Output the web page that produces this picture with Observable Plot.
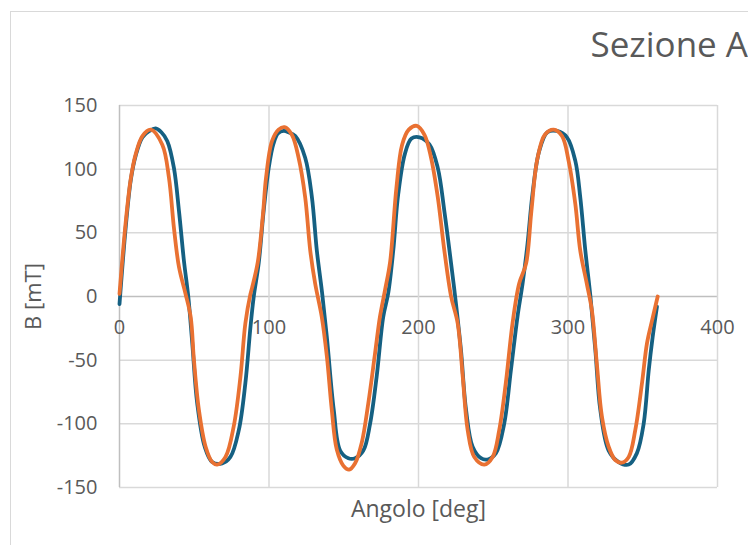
<!DOCTYPE html>
<html>
<head>
<meta charset="utf-8">
<script src="https://cdn.jsdelivr.net/npm/d3@7"></script>
<script src="https://cdn.jsdelivr.net/npm/@observablehq/plot@0.6"></script>
<style>
  html, body { margin: 0; padding: 0; background: #fff; overflow: hidden; }
  #wrap { position: relative; width: 748px; height: 545px; overflow: hidden; }
  #border { position: absolute; left: 10px; top: 11px; width: 800px; height: 600px; border: 1.5px solid #d9d9d9; box-sizing: border-box; }
  #chart { position: absolute; left: 0; top: 0; }
</style>
</head>
<body>
<div id="wrap"><div id="border"></div><div id="chart"></div></div>
<script>
const chartTitle = "Sezione A";
const xTitle = "Angolo [deg]";
const yTitle = "B [mT]";
const xTicks = [0, 100, 200, 300, 400];
const yTicks = [-150, -100, -50, 0, 50, 100, 150];

// Blue series (angle deg, B mT)
const blueX = [0, 4.2, 7.6, 10.9, 15.3, 20, 24.2, 28, 32, 36.4, 39.8, 43.1, 46, 48.7, 52, 57, 62, 68.7, 74.2, 79.8, 84.2, 87.6, 89.8, 93.1, 96.4, 99.8, 103, 106, 109.8, 113, 117.6, 124.2, 128.7, 132, 135.3, 138.7, 143.3, 147.6, 153.1, 157.6, 163.1, 167.6, 172, 176.4, 179.8, 183.1, 186.4, 190.9, 195.3, 200.7, 207.3, 212.9, 217.3, 221.8, 225.1, 228.4, 231.8, 236.2, 241.8, 246.2, 251.8, 257.3, 261.8, 266.2, 269.6, 272.9, 276.2, 280.7, 286.2, 292.6, 299.3, 304.9, 308.2, 311.6, 315, 318.3, 321.6, 327.2, 333.9, 340.6, 346.1, 350.6, 354, 356.6, 359.5];
const blueY = [-6, 55, 92, 111, 125, 130, 132, 129, 122, 101, 67, 28, 0, -37, -84, -118, -130, -131, -126, -105, -68, -24, 0, 26, 67, 101, 120, 128, 130, 129, 126, 109, 78, 36, 5, -32, -89, -121, -127, -127, -121, -100, -63, -16, 3, 36, 80, 112, 124, 125, 119.5, 101, 67, 26, -6, -42, -89, -118, -127, -128, -123, -100, -58, -16, 10, 41, 80, 114, 129, 130, 125, 106.5, 78, 36, 0, -42, -89, -121, -130, -132, -123, -100, -58, -32, -8];

// Orange series (angle deg, B mT)
const orangeX = [0, 4.2, 7.6, 10.9, 15.3, 20.9, 28.7, 33.1, 36.4, 39.8, 44.2, 47.6, 49.8, 53.1, 57.6, 62, 65.3, 70.9, 76.4, 80.9, 84.2, 87.6, 88.7, 92.5, 96, 98, 102, 106.4, 110.4, 115.3, 119.8, 124.2, 127.6, 130.9, 135.3, 138.7, 142, 145.3, 149.8, 153.6, 157.6, 162, 166.4, 170.9, 174.2, 177.6, 181, 185.2, 189, 193.5, 198.9, 204, 208.4, 212.9, 217.3, 221.8, 226.2, 229.6, 232.9, 237.3, 244, 249.6, 254, 258.4, 262.9, 267.3, 272, 275.5, 279.5, 284.5, 290.4, 296, 300.4, 304.9, 308.2, 312.6, 316, 319.3, 322.7, 327.2, 331.6, 336, 340.6, 345, 349.5, 352.8, 356.2, 360];
const orangeY = [2, 59, 93, 112, 126, 131, 119, 93, 54, 23, 2, -16, -50, -89, -118, -130, -132, -126, -102, -63, -21, 2, 7, 27, 65, 93, 122, 131, 133, 127, 109, 78, 36, 10, -16, -47, -89, -120, -133, -136, -131, -115, -84, -45, -16, 5, 27, 85, 119, 131, 134, 127, 109, 78, 36, 0, -21, -63, -105, -126, -132, -126, -105, -68, -21, 10, 26, 67, 108, 127, 131, 126, 106.5, 72.6, 36, 10, -11, -53, -94.5, -118, -128.4, -130.5, -126, -105, -68, -37, -19, 0];

const blue = blueX.map((x, i) => ({x, y: blueY[i]}));
const orange = orangeX.map((x, i) => ({x, y: orangeY[i]}));

const textColor = "#595959";
const font = "'Open Sans', 'Liberation Sans', sans-serif";

const plot = Plot.plot({
  width: 748,
  height: 545,
  marginLeft: 119,
  marginRight: 31,
  marginTop: 105,
  marginBottom: 58,
  style: {background: "transparent", fontFamily: font, color: textColor, overflow: "visible"},
  x: {domain: [0, 400], axis: null},
  y: {domain: [-150, 150], axis: null},
  marks: [
    Plot.ruleY(yTicks, {y: d => d, stroke: d => d === 0 ? "#bfbfbf" : "#d9d9d9", strokeWidth: 1.5, strokeOpacity: 1}),
    Plot.ruleX(xTicks, {x: d => d, stroke: d => d === 0 ? "#bfbfbf" : "#d9d9d9", strokeWidth: 1.5, strokeOpacity: 1}),
    Plot.axisY(yTicks, {anchor: "left", tickSize: 0, tickPadding: 22, fontSize: 20, fill: textColor, label: null, tickFormat: d => d < 0 ? "-" + Math.abs(d) : String(d)}),
    Plot.text(xTicks, {x: d => d, y: () => 0, text: d => String(d), dy: 31, fontSize: 20, fill: textColor, lineAnchor: "middle"}),
    Plot.text([yTitle], {frameAnchor: "left", dx: -86, rotate: -90, textAnchor: "middle", lineAnchor: "middle", text: d => d, fontSize: 22, fill: textColor}),
    Plot.text([xTitle], {frameAnchor: "bottom", dy: 22, textAnchor: "middle", lineAnchor: "middle", text: d => d, fontSize: 23, fill: textColor}),
    Plot.text([chartTitle], {frameAnchor: "top-left", dx: 471, dy: -60, textAnchor: "start", lineAnchor: "middle", text: d => d, fontSize: 35, fill: textColor}),
    Plot.line(blue, {x: "x", y: "y", stroke: "#156082", strokeWidth: 3.8, curve: "catmull-rom"}),
    Plot.line(orange, {x: "x", y: "y", stroke: "#E97132", strokeWidth: 3.8, curve: "catmull-rom"})
  ]
});
document.getElementById("chart").appendChild(plot);
</script>
</body>
</html>
